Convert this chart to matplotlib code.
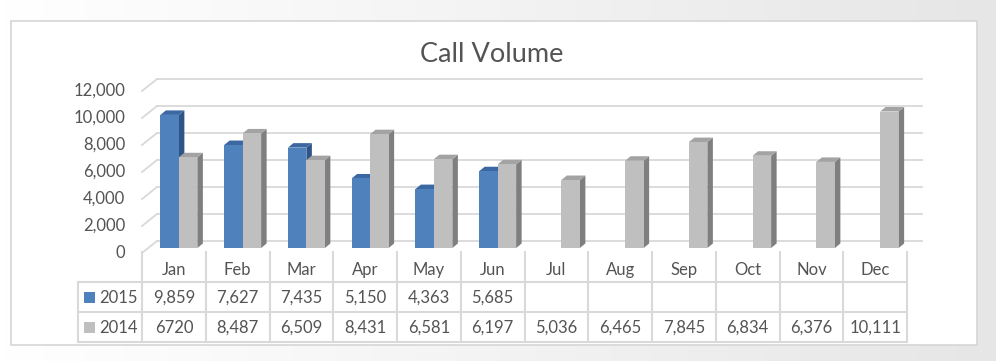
import numpy as np
import matplotlib
matplotlib.use("Agg")
import matplotlib.pyplot as plt
from matplotlib.patches import Polygon, Rectangle
from matplotlib.colors import LinearSegmentedColormap
import matplotlib.transforms as mtransforms

# ---------------- data ----------------
months = ["Jan", "Feb", "Mar", "Apr", "May", "Jun", "Jul", "Aug", "Sep", "Oct", "Nov", "Dec"]
series_names = ["2015", "2014"]
vals_2015 = [9859, 7627, 7435, 5150, 4363, 5685, None, None, None, None, None, None]
vals_2014 = [6720, 8487, 6509, 8431, 6581, 6197, 5036, 6465, 7845, 6834, 6376, 10111]
labels_2015 = ["9,859", "7,627", "7,435", "5,150", "4,363", "5,685", "", "", "", "", "", ""]
labels_2014 = ["6720", "8,487", "6,509", "8,431", "6,581", "6,197", "5,036", "6,465",
               "7,845", "6,834", "6,376", "10,111"]
yticks = [0, 2000, 4000, 6000, 8000, 10000, 12000]
ytick_labels = ["0", "2,000", "4,000", "6,000", "8,000", "10,000", "12,000"]
title = "Call Volume"

# ---------------- style ----------------
W, H = 996, 361
FONT = "Lato"
TXT = "#545454"
GRID = "#d9d9d9"
C15 = ("#4f81bd", "#3b67a2", "#2f5587")   # front, top, side
C14 = ("#bfbfbf", "#a3a3a3", "#7f7f7f")

fig = plt.figure(figsize=(W / 100, H / 100), dpi=100)

# background + chart box (pixel coordinates)
bg = fig.add_axes([0, 0, 1, 1])
bg.set_xlim(0, W)
bg.set_ylim(H, 0)
bg.axis("off")
grad = np.linspace(0, 1, 256).reshape(1, -1)
cmap = LinearSegmentedColormap.from_list("g", ["#ffffff", "#f3f3f3", "#e6e6e6"])
bg.imshow(grad, extent=[0, W, H, 0], aspect="auto", cmap=cmap, zorder=0)
bg.add_patch(Rectangle((11, 21), 966, 324, facecolor="white", edgecolor="#d6d6d6", lw=1.2, zorder=1))

# main axes: x in category units, y in values (front plane)
AX_L, AX_R = 142, 907
Y0_PX, PLOT_H = 253, 162
ax = fig.add_axes([AX_L / W, (H - Y0_PX) / H, (AX_R - AX_L) / W, PLOT_H / H])
ax.set_xlim(-0.5, 11.5)
ax.set_ylim(0, 12000)
ax.axis("off")
ax.patch.set_alpha(0)

PX_X = (AX_R - AX_L) / 12.0
PX_Y = PLOT_H / 12000.0
dxp = lambda p: p / PX_X
dyp = lambda p: p / PX_Y

# back wall gridlines
bx, by = dxp(15), dyp(12)
for v in yticks:
    ax.plot([-0.5 + bx, 11.5 + bx], [v + by, v + by], color=GRID, lw=1.3, clip_on=False, zorder=1)
    ax.plot([-0.5, -0.5 + bx], [v, v + by], color=GRID, lw=1.3, clip_on=False, zorder=1)

# y tick labels
for v, lab in zip(yticks, ytick_labels):
    ax.text(-0.5 - dxp(17), v, lab, ha="right", va="center", fontsize=12,
            family=FONT, color=TXT, clip_on=False)

# 3D bars
ox, oy = dxp(5), dyp(5)
bw = 18.5 / PX_X
ddx, ddy = dxp(5.5), dyp(4.5)
x = np.arange(len(months))


def bar3d(x0, v, cols, z):
    x1 = x0 + bw
    y0 = oy
    top = v + oy
    ax.add_patch(Polygon([(x1, y0), (x1 + ddx, y0 + ddy), (x1 + ddx, top + ddy), (x1, top)],
                         closed=True, facecolor=cols[2], edgecolor="none", zorder=z, clip_on=False))
    ax.add_patch(Polygon([(x0, top), (x1, top), (x1 + ddx, top + ddy), (x0 + ddx, top + ddy)],
                         closed=True, facecolor=cols[1], edgecolor="none", zorder=z, clip_on=False))
    ax.bar([x0], [v], width=bw, bottom=y0, align="edge", color=cols[0],
           edgecolor="none", zorder=z + 0.5, clip_on=False)


for i in x:
    z = 3 + i * 2
    if vals_2015[i] is not None:
        bar3d(i + ox - bw, vals_2015[i], C15, z)
    if vals_2014[i] is not None:
        bar3d(i + ox, vals_2014[i], C14, z + 1)

# title
bg.text(492, 55, title, ha="center", va="center", fontsize=19.5, family=FONT, color=TXT)

# data table (x in category units, y in figure pixels)
trans = mtransforms.blended_transform_factory(ax.transData, bg.transData)
r0, r1, r2, r3 = 252, 282, 312, 342
LW = 1.5
left_leg = -1.5
for k in range(13):
    xe = k - 0.5
    ax.plot([xe, xe], [r0, r3], transform=trans, color=GRID, lw=LW, clip_on=False, zorder=1)
ax.plot([left_leg, left_leg], [r1, r3], transform=trans, color=GRID, lw=LW, clip_on=False, zorder=1)
for yy in (r1, r2, r3):
    ax.plot([left_leg, 11.5], [yy, yy], transform=trans, color=GRID, lw=LW, clip_on=False, zorder=1)

for i, m in enumerate(months):
    ax.text(i, (r0 + r1) / 2 + 3, m, transform=trans, ha="center", va="center",
            fontsize=12, family=FONT, color=TXT)
    ax.text(i, (r1 + r2) / 2 + 1, labels_2015[i], transform=trans, ha="center", va="center",
            fontsize=12, family=FONT, color=TXT)
    ax.text(i, (r2 + r3) / 2 + 1, labels_2014[i], transform=trans, ha="center", va="center",
            fontsize=12, family=FONT, color=TXT)

# legend keys inside table
for name, cols, (ya, yb) in zip(series_names, (C15, C14), ((r1, r2), (r2, r3))):
    yc = (ya + yb) / 2
    bg.add_patch(Rectangle((84, yc - 5.5), 11, 11, facecolor=cols[0], edgecolor="none", zorder=2))
    bg.text(99, yc + 1, name, ha="left", va="center", fontsize=12, family=FONT, color=TXT)

fig.savefig("out.png", dpi=100)
